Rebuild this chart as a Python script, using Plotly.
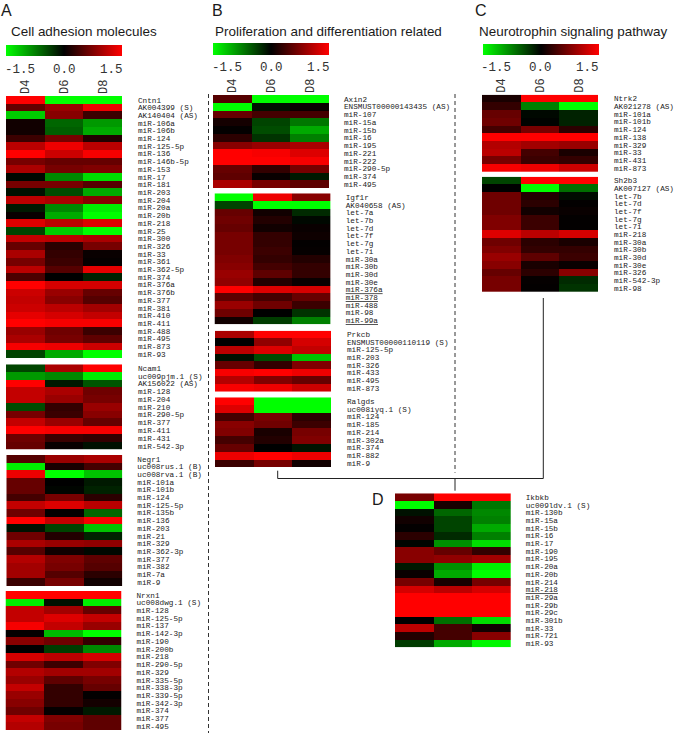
import plotly.graph_objects as go

W, H = 674, 733
days = ["D4", "D6", "D8"]

# ---------- Panel A ----------
a1_labels = ["Cntn1", "AK004399 (S)", "AK140404 (AS)", "miR-106a", "miR-106b", "miR-124", "miR-125-5p", "miR-136",
             "miR-146b-5p", "miR-153", "miR-17", "miR-181", "miR-203", "miR-204", "miR-20a", "miR-20b", "miR-218",
             "miR-25", "miR-300", "miR-326", "miR-33", "miR-361", "miR-362-5p", "miR-374", "miR-376a", "miR-376b",
             "miR-377", "miR-381", "miR-410", "miR-411", "miR-488", "miR-495", "miR-873", "miR-93"]
a1_values = [[1.5, -1.5, -1.5], [0.6, 0.9, 1.4], [-1.2, 0.8, 0.35], [0.1, -0.6, -0.9], [0.1, -0.55, -1.0],
             [0.35, 0.7, 0.2], [1.1, 1.4, 1.1], [1.5, 1.2, 1.45], [0.7, 0.6, 0.6], [1.0, 0.7, 0.75],
             [-0.05, -0.8, -1.3], [0.7, 0.7, 0.5], [-0.1, -0.45, -1.0], [1.1, 1.0, 0.8], [-0.15, -0.8, -1.4],
             [0.05, -1.0, -1.5], [1.3, 1.1, 1.3], [-0.4, -1.2, -1.5], [1.15, 1.1, 1.0], [0.6, 0.25, 0.7],
             [1.0, 0.3, 0.05], [0.7, 0.35, 0.03], [1.1, 0.5, 1.35], [0.45, 0.0, -0.2], [1.5, 1.25, 1.25],
             [1.2, 0.9, 0.6], [1.15, 0.8, 0.5], [1.2, 1.1, 0.95], [1.35, 1.25, 1.15], [1.5, 1.45, 1.45],
             [0.9, 0.65, 0.35], [1.0, 0.7, 0.55], [1.45, 1.4, 1.2], [-0.4, -1.0, -1.5]]

a2_labels = ["Ncam1", "uc009pjm.1 (S)", "AK156022 (AS)", "miR-128", "miR-204", "miR-210", "miR-290-5p", "miR-377",
             "miR-411", "miR-431", "miR-542-3p"]
a2_values = [[-0.4, 1.0, 1.5], [-0.9, -0.8, -1.4], [1.5, -0.15, -0.5], [1.15, 1.0, 0.65], [1.15, 0.9, 0.7],
             [-0.45, 0.3, 0.9], [0.7, 0.35, 0.8], [1.15, 0.9, 0.6], [1.5, 1.45, 1.45], [0.65, 0.35, 0.3],
             [0.6, 0.05, -0.1]]

a3_labels = ["Negr1", "uc008rus.1 (B)", "uc008rva.1 (B)", "miR-101a", "miR-101b", "miR-124", "miR-125-5p", "miR-135b",
             "miR-136", "miR-203", "miR-21", "miR-329", "miR-362-3p", "miR-377", "miR-382", "miR-7a", "miR-9"]
a3_values = [[0.5, 0.9, 1.0], [-1.4, 0.15, 0.4], [1.4, -1.5, -1.15], [0.6, 0.0, -0.15], [0.6, -0.03, -0.2],
             [0.4, 0.7, 0.25], [1.15, 1.3, 1.1], [0.65, 0.02, -0.6], [1.5, 1.15, 1.45], [-0.1, -0.4, -1.15],
             [0.65, 0.2, -0.2], [1.0, 0.9, 0.85], [0.5, 0.1, -0.05], [1.05, 0.75, 0.55], [0.95, 0.7, 0.5],
             [0.95, 0.5, 0.25], [0.35, 0.7, 0.1]]

a4_labels = ["Nrxn1", "uc008dwg.1 (S)", "miR-128", "miR-125-5p", "miR-137", "miR-142-3p", "miR-190", "miR-200b",
             "miR-218", "miR-290-5p", "miR-329", "miR-335-5p", "miR-338-3p", "miR-339-5p", "miR-342-3p", "miR-374",
             "miR-377", "miR-495"]
a4_values = [[1.5, 1.5, 1.5], [-1.4, -0.1, -1.4], [1.15, 0.95, 0.6], [1.15, 1.3, 1.15], [1.45, 1.15, 0.9],
             [0.02, -1.1, -1.5], [0.8, 0.65, 0.3], [0.0, -0.35, -0.8], [1.25, 1.1, 1.25], [0.65, 0.35, 0.75],
             [1.05, 0.95, 0.95], [0.9, 0.55, 0.7], [1.15, 0.3, 0.6], [0.9, 0.3, 0.02], [0.8, 0.3, 0.12],
             [0.65, 0.03, -0.15], [1.15, 0.75, 0.55], [1.05, 0.7, 0.55]]

# ---------- Panel B ----------
b1_labels = ["Axin2", "ENSMUST00000143435 (AS)", "miR-107", "miR-15a", "miR-15b", "miR-16", "miR-195", "miR-221",
             "miR-222", "miR-290-5p", "miR-374", "miR-495"]
b1_values = [[0.5, -1.5, -1.5], [-1.5, -0.1, 0.05], [0.6, 0.4, 0.4], [0.12, -0.4, -0.7], [0.02, -0.45, -1.0],
             [0.25, -0.3, -0.75], [0.8, 0.9, 1.0], [1.5, 1.45, 1.3], [1.5, 1.5, 1.45], [0.6, 0.3, 0.7],
             [0.55, 0.05, -0.15], [1.0, 0.7, 0.55]]

b2_labels = ["Igf1r", "AK040658 (AS)", "let-7a", "let-7b", "let-7d", "let-7f", "let-7g", "let-7i", "miR-30a",
             "miR-30b", "miR-30d", "miR-30e", "<u>miR-376a</u>", "<u>miR-378</u>", "miR-488", "miR-98", "<u>miR-99a</u>"]
b2_values = [[-1.5, 1.4, 0.8], [-0.4, -1.5, -1.5], [0.6, 0.1, -0.25], [0.65, 0.2, -0.05], [0.6, 0.1, 0.05],
             [0.7, 0.3, 0.08], [0.7, 0.3, 0.02], [0.7, 0.35, 0.03], [0.75, 0.3, 0.2], [0.8, 0.4, 0.3],
             [0.9, 0.55, 0.3], [0.85, 0.2, 0.05], [1.5, 1.3, 1.25], [0.55, 0.4, 0.6], [0.9, 0.65, 0.35],
             [0.65, 0.0, -0.3], [0.1, -0.35, -0.75]]

b3_labels = ["Prkcb", "ENSMUST00000110119 (S)", "miR-125-5p", "miR-203", "miR-326", "miR-433", "miR-495", "miR-873"]
b3_values = [[1.0, 1.5, 1.5], [0.0, 0.85, 1.25], [1.1, 1.3, 1.15], [-0.1, -0.45, -1.15], [0.6, 0.3, 0.75],
             [1.45, 1.5, 1.4], [1.05, 0.75, 0.6], [1.45, 1.4, 1.2]]

b4_labels = ["Ralgds", "uc008iyq.1 (S)", "miR-124", "miR-185", "miR-214", "miR-302a", "miR-374", "miR-882", "miR-9"]
b4_values = [[1.5, -1.5, -1.5], [1.3, -1.5, -1.5], [0.4, 0.7, 0.25], [0.8, 0.65, 0.35], [0.75, 0.15, 0.7],
             [0.4, 0.2, 0.75], [0.6, 0.0, -0.12], [1.4, 1.5, 1.4], [0.35, 0.7, 0.1]]

# ---------- Panel C ----------
c1_labels = ["Ntrk2", "AK021278 (AS)", "miR-101a", "miR-101b", "miR-124", "miR-138", "miR-329", "miR-33", "miR-431",
             "miR-873"]
c1_values = [[0.15, 1.5, 1.5], [0.3, -0.75, -1.5], [0.6, -0.05, -0.2], [0.65, -0.02, -0.2], [0.4, 0.7, 0.25],
             [1.5, 1.5, 1.5], [1.05, 0.95, 0.9], [1.1, 0.4, 0.15], [0.7, 0.35, 0.3], [1.45, 1.4, 1.2]]

c2_labels = ["Sh2b3", "AK007127 (AS)", "let-7b", "let-7d", "let-7f", "let-7g", "let-7i", "miR-218", "miR-30a",
             "miR-30b", "miR-30d", "miR-30e", "miR-326", "miR-542-3p", "miR-98"]
c2_values = [[-0.4, 1.5, 1.5], [0.0, -1.5, -0.65], [0.65, 0.2, -0.07], [0.65, 0.25, 0.02], [0.65, 0.1, 0.05],
             [0.75, 0.35, 0.02], [0.75, 0.35, 0.02], [1.3, 1.1, 1.25], [0.65, 0.25, 0.15], [0.75, 0.3, 0.3],
             [0.9, 0.55, 0.35], [0.8, 0.15, 0.05], [0.6, 0.25, 0.8], [0.7, 0.03, -0.25], [0.7, 0.02, -0.3]]

# ---------- Panel D ----------
d1_labels = ["Ikbkb", "uc009ldv.1 (S)", "miR-130b", "miR-15a", "miR-15b", "miR-16", "miR-17", "miR-190", "miR-195",
             "miR-20a", "miR-20b", "miR-214", "<u>miR-218</u>", "miR-29a", "miR-29b", "miR-29c", "miR-301b", "miR-33",
             "miR-721", "miR-93"]
d1_values = [[0.7, 1.5, 1.5], [-1.5, 0.15, -0.7], [-0.1, -0.6, -0.8], [0.1, -0.4, -0.75], [0.02, -0.4, -1.0],
             [0.25, -0.25, -0.75], [-0.03, -0.85, -1.3], [0.8, 0.6, 0.3], [0.8, 0.85, 0.95], [-0.15, -0.85, -1.4],
             [0.05, -1.0, -1.5], [0.7, 0.15, 0.7], [1.25, 1.1, 1.25], [1.5, 1.5, 1.5], [1.5, 1.5, 1.5],
             [1.5, 1.5, 1.5], [0.0, -0.65, -1.3], [1.1, 0.4, 0.1], [0.2, 0.4, 0.8], [-0.35, -1.0, -1.45]]

colorscale = [[0, "#00ff00"], [0.5, "#000000"], [1, "#ff0000"]]
mono = "Liberation Mono, monospace"
sans = "Liberation Sans, Arial, sans-serif"


def fx(p):
    return p / W


def fy(p):
    return 1 - p / H


# labels, values, left, right, top, bottom, label x, show day labels, colourbar (left, top, bottom)
blocks = [
    (a1_labels, a1_values, 6, 122, 96, 358, 138, True, (6, 44.3, 55.7)),
    (a2_labels, a2_values, 6, 122, 364.3, 449.7, 138, False, None),
    (a3_labels, a3_values, 6.3, 122.3, 455, 586, 138, False, None),
    (a4_labels, a4_values, 5.5, 121.5, 591, 730, 137, False, None),
    (b1_labels, b1_values, 213, 329, 95, 188, 344, True, (213, 43.3, 55)),
    (b2_labels, b2_values, 214.5, 330.7, 193.3, 324.3, 346, False, None),
    (b3_labels, b3_values, 215, 331, 330.7, 391.7, 347, False, None),
    (b4_labels, b4_values, 215, 331, 397.3, 467, 347, False, None),
    (c1_labels, c1_values, 482, 598, 94.7, 172, 614, True, (482.5, 43.7, 55)),
    (c2_labels, c2_values, 482, 598, 176.7, 292, 614, False, None),
    (d1_labels, d1_values, 395, 510.7, 493.3, 647.3, 526, False, None),
]

fig = go.Figure()
layout = {}
for i, (labels, values, x0, x1, y0, y1, lx, show_days, cbar) in enumerate(blocks, start=1):
    trace = dict(
        z=values, x=days, y=labels, xaxis=f"x{i}", yaxis=f"y{i}",
        colorscale=colorscale, zmin=-1.5, zmax=1.5, showscale=cbar is not None, xgap=0, ygap=0,
    )
    if cbar:
        trace["colorbar"] = dict(
            orientation="h", x=fx(cbar[0]), xanchor="left", xref="paper", y=fy(cbar[2]), yanchor="bottom",
            yref="paper", lenmode="pixels", len=116, thicknessmode="pixels", thickness=cbar[2] - cbar[1],
            xpad=0, ypad=0, outlinewidth=0, borderwidth=0, showticklabels=False, ticks="",
        )
    fig.add_trace(go.Heatmap(**trace))
    layout[f"xaxis{i}"] = dict(
        domain=[fx(x0), fx(x1)], anchor=f"y{i}", side="top", type="category", showgrid=False, zeroline=False,
        showline=False, showticklabels=show_days, tickangle=-90, ticks="", ticklabelstandoff=1,
        tickfont=dict(family=mono, size=12, color="#333333"),
    )
    layout[f"yaxis{i}"] = dict(
        domain=[fy(y1), fy(y0)], anchor=f"x{i}", side="right", type="category", autorange="reversed",
        showgrid=False, zeroline=False, showline=False, tickmode="array", tickvals=labels, ticktext=labels,
        ticks="", ticklabelstandoff=int(lx - x1 - 1),
        tickfont=dict(family=mono, size=7.7, color="#222222"),
    )

annotations = []


def text(s, x, y, size, family, anchor="left", color="#1a1a1a"):
    annotations.append(dict(
        text=s, x=fx(x), y=fy(y), xref="paper", yref="paper", xanchor=anchor, yanchor="middle", showarrow=False,
        font=dict(family=family, size=size, color=color), borderpad=0, borderwidth=0,
    ))


for letter, x, y in [("A", 1, 10), ("B", 212, 10), ("C", 475, 10), ("D", 371.5, 499)]:
    text(letter, x, y, 16, sans)

text("Cell adhesion molecules", 10.5, 31, 13.45, sans)
text("Proliferation and differentiation related", 214.5, 31, 13.45, sans)
text("Neurotrophin signaling pathway", 478.5, 31, 13.45, sans)

for left, y in [(6, 69.5), (213, 68.5), (482.5, 68.5)]:
    text("-1.5", left - 1.5, y, 12.5, mono, "left", "#333333")
    text("0.0", left + 58, y, 12.5, mono, "center", "#333333")
    text("1.5", left + 116.5, y, 12.5, mono, "right", "#333333")

line_dark = dict(color="#222222", width=1)
dash = dict(color="#333333", width=1, dash="4px,3px")
shapes = [
    dict(type="line", xref="paper", yref="paper", x0=fx(208.5), x1=fx(208.5), y0=fy(94), y1=fy(733), line=dash),
    dict(type="line", xref="paper", yref="paper", x0=fx(455), x1=fx(455), y0=fy(94), y1=fy(472.7), line=dash),
    dict(type="line", xref="paper", yref="paper", x0=fx(277.7), x1=fx(277.7), y0=fy(470.7), y1=fy(478.5), line=line_dark),
    dict(type="line", xref="paper", yref="paper", x0=fx(277.7), x1=fx(543.3), y0=fy(478.5), y1=fy(478.5), line=line_dark),
    dict(type="line", xref="paper", yref="paper", x0=fx(543.3), x1=fx(543.3), y0=fy(298), y1=fy(478.5), line=line_dark),
    dict(type="line", xref="paper", yref="paper", x0=fx(455), x1=fx(455), y0=fy(478.5), y1=fy(490.7), line=line_dark),
]

fig.update_layout(
    width=W, height=H, margin=dict(l=0, r=0, t=0, b=0), paper_bgcolor="white", plot_bgcolor="white",
    showlegend=False, annotations=annotations, shapes=shapes, **layout,
)
fig.write_html("out.html", config={"displayModeBar": False},
               post_script="document.body.style.margin='0';document.body.style.overflow='hidden';")
